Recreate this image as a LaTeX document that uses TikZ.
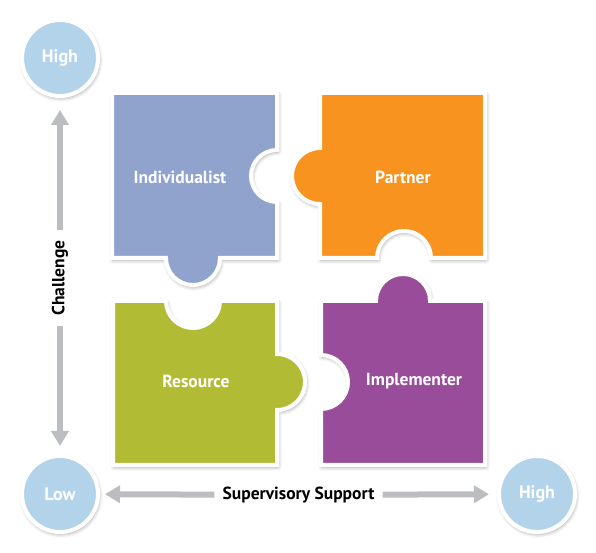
\documentclass[tikz,border=0pt]{standalone}
\usepackage{fontspec}
\setmainfont{PT Sans}
\usetikzlibrary{arrows.meta,shadows.blur}
\definecolor{pblue}{HTML}{8FA3CD}
\definecolor{porange}{HTML}{F7931E}
\definecolor{pgreen}{HTML}{B2BB34}
\definecolor{ppurple}{HTML}{984C99}
\definecolor{cblue}{HTML}{B3D3EB}
\definecolor{agray}{HTML}{BCBDC1}
\begin{document}
\begin{tikzpicture}[x=1pt,y=1pt,
  piece/.style={draw=white,line width=4pt,line join=miter,
    blur shadow={shadow xshift=1pt,shadow yshift=-2pt,shadow blur radius=4pt,shadow opacity=40}},
  ptext/.style={text=white,font=\bfseries\fontsize{17.5}{19}\selectfont},
  endcircle/.style={circle,fill=cblue,draw=white,line width=4pt,minimum size=76pt,inner sep=0pt,
    text=white,font=\bfseries\fontsize{18}{20}\selectfont,
    blur shadow={shadow xshift=1pt,shadow yshift=-2pt,shadow blur radius=4pt,shadow opacity=40}},
  axislabel/.style={font=\bfseries\fontsize{17.5}{19}\selectfont,text=black,inner ysep=2pt},
  axisarrow/.style={draw=agray,line width=6pt,-{Triangle[length=15pt,width=17pt]}}
]
\useasboundingbox (0,0) rectangle (596,553);
% puzzle pieces
\path[piece,fill=pblue] (112,460) -- (277,460) -- (277,403)
  arc[start angle=90,end angle=270,radius=26] -- (277,295) -- (220,295)
  arc[start angle=0,end angle=-180,radius=27] -- (112,295) -- cycle;
\path[piece,fill=porange] (320,460) -- (485,460) -- (485,295) -- (431,295)
  arc[start angle=0,end angle=180,radius=27] -- (320,295) -- (320,349)
  arc[start angle=-90,end angle=-270,radius=28] -- cycle;
\path[piece,fill=pgreen] (113,252) -- (166,252)
  arc[start angle=180,end angle=360,radius=27] -- (277,252) -- (277,199)
  arc[start angle=90,end angle=-90,radius=28] -- (277,88) -- (113,88) -- cycle;
\path[piece,fill=ppurple] (321,252) -- (376,252)
  arc[start angle=180,end angle=0,radius=27] -- (485,252) -- (485,88) -- (321,88) -- (321,144)
  arc[start angle=-90,end angle=90,radius=27] -- cycle;
\node[ptext] (indiv) at (180,376) {Individualist};
\node[ptext] (partner) at (403,376) {Partner};
\node[ptext] (resource) at (196,172) {Resource};
\node[ptext] (implem) at (414,172) {Implementer};
% circles
\node[endcircle] (hightop) at (60,495) {High};
\node[endcircle] (low) at (60,59) {Low};
\node[endcircle] (highright) at (537,59) {High};
% axis labels
\node[axislabel,rotate=90,inner xsep=10pt] (chal) at (60,275) {Challenge};
\node[axislabel,inner xsep=8pt] (supp) at (298.5,58) {Supervisory Support};
% arrows
\draw[axisarrow,shorten >=12pt] (chal) -- (hightop);
\draw[axisarrow,shorten >=8pt] (chal) -- (low);
\draw[axisarrow,shorten >=5pt] (supp) -- (low);
\draw[axisarrow,shorten >=8pt] (supp) -- (highright);
\end{tikzpicture}
\end{document}
